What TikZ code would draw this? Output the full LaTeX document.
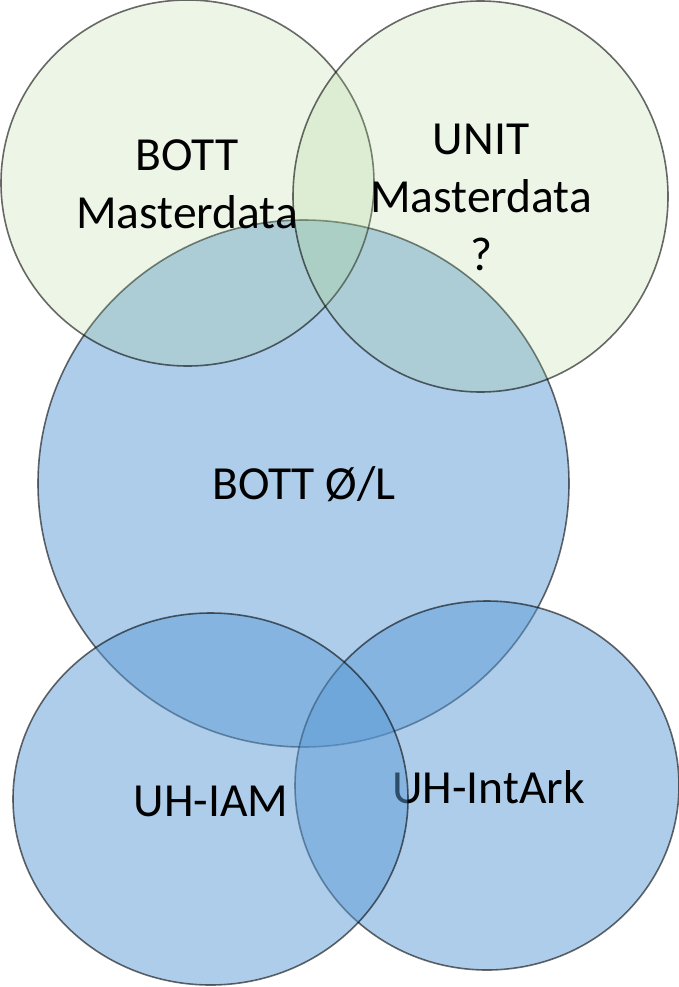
\documentclass[tikz,border=0pt]{standalone}
\usepackage{fontspec}
\setmainfont{Carlito}
\usetikzlibrary{shapes.geometric}
\definecolor{vblue}{HTML}{5B9BD5}
\definecolor{vgreen}{HTML}{A9D18E}
\begin{document}
\begin{tikzpicture}[x=1pt,y=-1pt,
  ring/.style={ellipse, draw=black, draw opacity=0.58, line width=1.6pt, inner sep=0pt},
  bluering/.style={ring, fill=vblue, fill opacity=0.5},
  greenring/.style={ring, fill=vgreen, fill opacity=0.22},
  lbl/.style={font=\fontsize{47.5}{58}\selectfont, align=center, anchor=base, inner sep=0pt, text=black}]
\useasboundingbox (0,0) rectangle (679,987);
\node[bluering, minimum width=531pt, minimum height=527pt] (ol) at (303.5,483.5) {};
\node[bluering, minimum width=384pt, minimum height=369pt] (intark) at (487,785.5) {};
\node[lbl] (tintark) at (488.5,803) {UH-IntArk};
\node[bluering, minimum width=395pt, minimum height=372pt] (iam) at (210.5,799) {};
\node[greenring, minimum width=373pt, minimum height=366pt] (bm) at (187.5,183) {};
\node[greenring, minimum width=375pt, minimum height=391pt] (um) at (480.5,196.5) {};
\node[lbl] (tbm) at (187,228) {BOTT\\Masterdata};
\node[lbl] (tum) at (481,270) {UNIT\\Masterdata\\?};
\node[lbl] (tol) at (304,499) {BOTT Ø/L};
\node[lbl] (tiam) at (211,816) {UH-IAM};
\end{tikzpicture}
\end{document}
